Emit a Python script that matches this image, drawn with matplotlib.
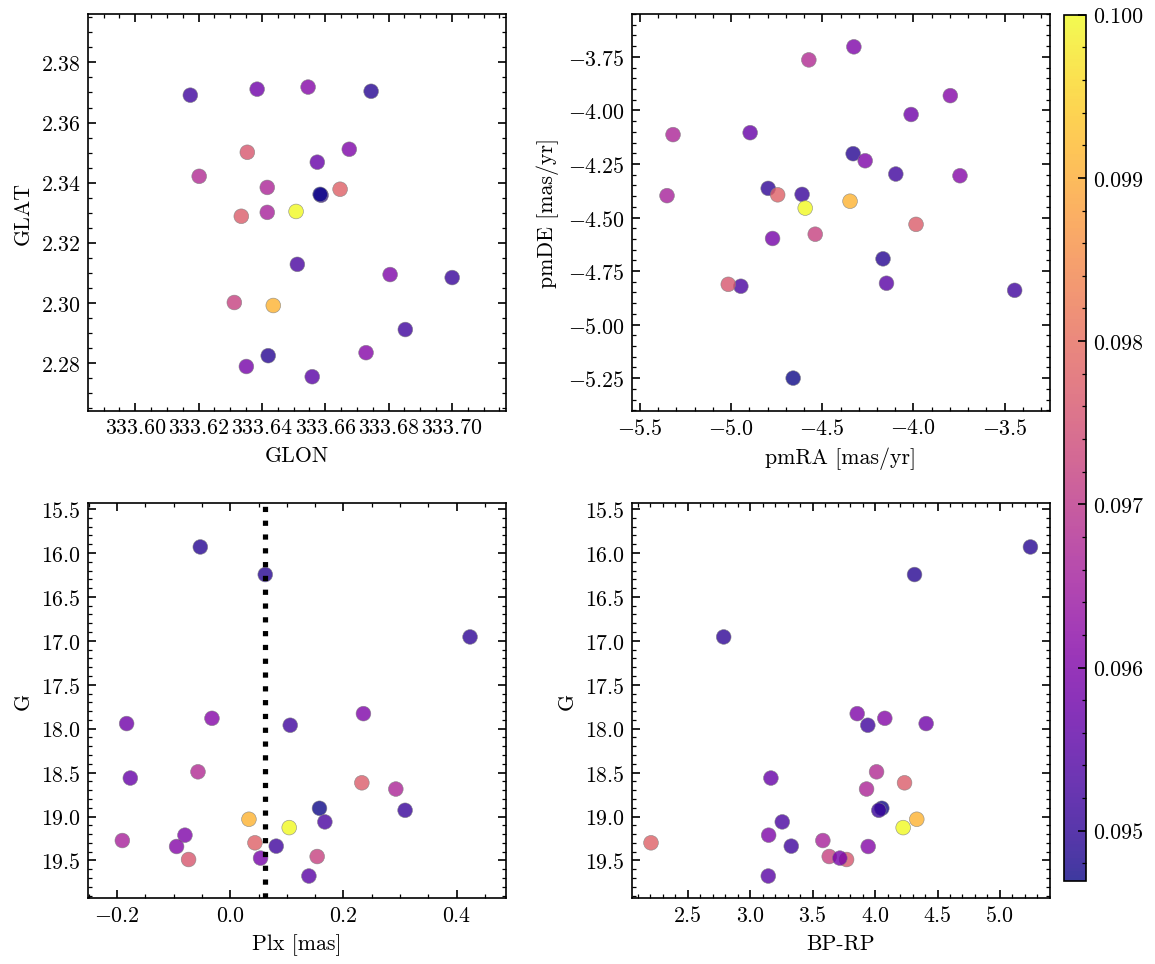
import matplotlib
matplotlib.use("Agg")
import matplotlib.pyplot as plt
from matplotlib.ticker import MultipleLocator, FormatStrFormatter

plt.rcParams['font.family'] = 'serif'
plt.rcParams['font.serif'] = ['cmr10']
plt.rcParams['mathtext.fontset'] = 'cm'
plt.rcParams['axes.formatter.use_mathtext'] = True
plt.rcParams['font.size'] = 10.5
plt.rcParams['axes.linewidth'] = 0.8
for ax_name in ['xtick', 'ytick']:
    plt.rcParams[ax_name + '.direction'] = 'in'
    plt.rcParams[ax_name + '.major.size'] = 4
    plt.rcParams[ax_name + '.minor.size'] = 2
    plt.rcParams[ax_name + '.major.width'] = 0.8
    plt.rcParams[ax_name + '.minor.width'] = 0.6
    plt.rcParams[ax_name + '.minor.visible'] = True
plt.rcParams['xtick.top'] = True
plt.rcParams['ytick.right'] = True

# stars A..Y
glon = [333.6745, 333.6420, 333.6587, 333.6676, 333.6546, 333.6853, 333.6385, 333.6575,
        333.6202, 333.6335, 333.6417, 333.6584, 333.7001, 333.6436, 333.6508, 333.6512,
        333.6417, 333.6647, 333.6805, 333.6174, 333.6729, 333.6313, 333.6354, 333.6351,
        333.6559]
glat = [2.3704, 2.2824, 2.3358, 2.3511, 2.3718, 2.2911, 2.3711, 2.3468,
        2.3421, 2.3288, 2.3384, 2.3361, 2.3084, 2.2991, 2.3304, 2.3128,
        2.3301, 2.3378, 2.3094, 2.3691, 2.2834, 2.3001, 2.3501, 2.2788,
        2.2754]
pmra = [-4.331, -4.167, -4.797, -4.327, -3.798, -4.097, -4.013, -4.896,
        -4.574, -3.986, -5.319, -4.660, -4.611, -4.348, -4.594, -4.947,
        -5.352, -4.745, -4.265, -3.445, -3.745, -4.539, -5.016, -4.773,
        -4.148]
pmdec = [-4.202, -4.693, -4.364, -3.703, -3.931, -4.297, -4.019, -4.104,
         -3.764, -4.532, -4.113, -5.250, -4.392, -4.424, -4.456, -4.821,
         -4.398, -4.394, -4.235, -4.840, -4.305, -4.578, -4.812, -4.598,
         -4.807]
plx = [-0.0529, 0.0618, 0.4235, 0.2352, -0.0323, 0.1059, -0.1830, -0.1765,
       -0.0570, 0.2324, 0.2924, 0.1576, 0.3088, 0.0330, 0.1041, 0.1671,
       -0.1906, 0.0436, -0.0800, 0.0812, -0.0948, 0.1535, -0.0736, 0.0535,
       0.1389]
bprp = [5.244, 4.316, 2.788, 3.857, 4.078, 3.942, 4.409, 3.166,
        4.012, 4.236, 3.932, 4.054, 4.030, 4.334, 4.225, 3.257,
        3.582, 2.206, 3.148, 3.329, 3.945, 3.633, 3.772, 3.718,
        3.145]
gmag = [15.932, 16.246, 16.956, 17.829, 17.882, 17.961, 17.942, 18.562,
        18.491, 18.616, 18.687, 18.906, 18.929, 19.031, 19.126, 19.061,
        19.273, 19.299, 19.212, 19.337, 19.341, 19.455, 19.489, 19.473,
        19.677]
cval = [0.0949, 0.0949, 0.0950, 0.0960, 0.0961, 0.0952, 0.0958, 0.0957,
        0.0968, 0.0977, 0.0967, 0.09469, 0.0951, 0.0991, 0.1000, 0.0953,
        0.0966, 0.0978, 0.0960, 0.0952, 0.0961, 0.0972, 0.0976, 0.0959,
        0.0955]

plx_cut = 0.0618

fig = plt.figure(figsize=(7.7, 6.4333), dpi=150)
w, h = 0.3616, 0.411
ax1 = fig.add_axes([0.0765, 0.5734, w, h])
ax2 = fig.add_axes([0.5472, 0.5734, w, h])
ax3 = fig.add_axes([0.0765, 0.0684, w, 0.4093])
ax4 = fig.add_axes([0.5472, 0.0684, w, 0.4093])
cax = fig.add_axes([0.9215, 0.0857, 0.0185, 0.898])

kw = dict(c=cval, cmap='plasma', vmin=0.09469, vmax=0.1, s=50, alpha=0.8,
          edgecolors='grey', linewidths=0.3)

sc = ax1.scatter(glon, glat, **kw)
ax1.set_xlabel('GLON')
ax1.set_ylabel('GLAT')
ax1.set_xlim(333.5852, 333.7171)
ax1.set_ylim(2.2641, 2.3961)
ax1.xaxis.set_major_locator(MultipleLocator(0.02))
ax1.xaxis.set_major_formatter(FormatStrFormatter('%.2f'))

ax2.scatter(pmra, pmdec, **kw)
ax2.set_xlabel('pmRA [mas/yr]')
ax2.set_ylabel('pmDE [mas/yr]')
ax2.set_xlim(-5.544, -3.253)
ax2.set_ylim(-5.402, -3.55)

ax3.scatter(plx, gmag, **kw)
ax3.axvline(plx_cut, color='k', linestyle=':', linewidth=2.5)
ax3.set_xlabel('Plx [mas]')
ax3.set_ylabel('G')
ax3.set_xlim(-0.2506, 0.487)
ax3.set_ylim(max(gmag) + 0.25, min(gmag) - 0.5)

ax4.scatter(bprp, gmag, **kw)
ax4.set_xlabel('BP-RP')
ax4.set_ylabel('G')
ax4.set_xlim(2.054, 5.398)
ax4.set_ylim(max(gmag) + 0.25, min(gmag) - 0.5)
ax4.xaxis.set_major_locator(MultipleLocator(0.5))

cb = fig.colorbar(sc, cax=cax)
cb.set_ticks([0.095, 0.096, 0.097, 0.098, 0.099, 0.100])
cb.ax.yaxis.set_major_formatter(FormatStrFormatter('%.3f'))
cb.ax.minorticks_on()

fig.savefig('out.png', dpi=150)
